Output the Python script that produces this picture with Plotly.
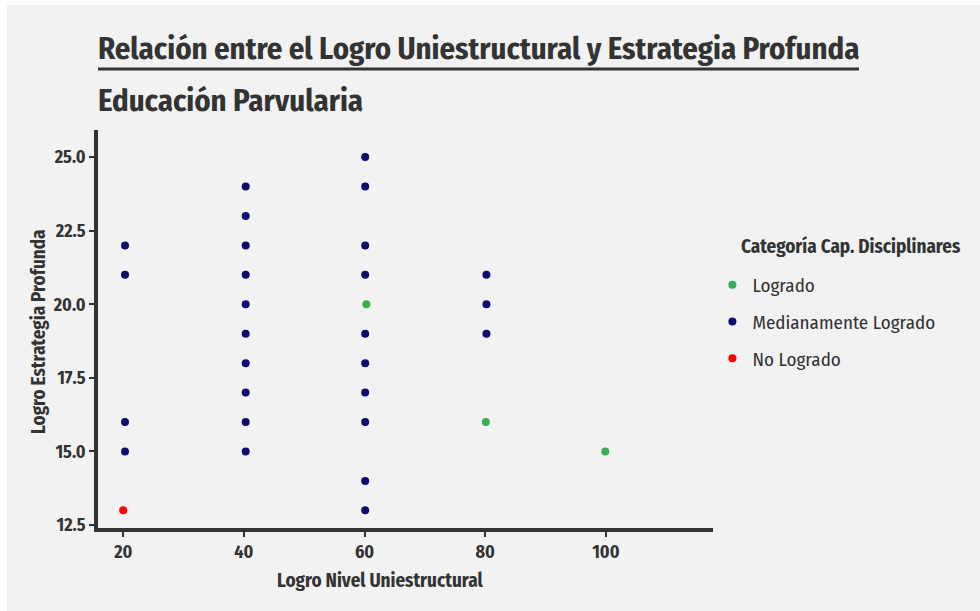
import plotly.graph_objects as go

# ---- data ----
categories = ["Logrado", "Medianamente Logrado", "No Logrado"]
logrado_x = [60.3, 80.1, 99.9]
logrado_y = [20, 16, 15]
medio_x = [20.3] * 4 + [40.3] * 10 + [60.1] * 10 + [80.2] * 3
medio_y = [22, 21, 16, 15,
           24, 23, 22, 21, 20, 19, 18, 17, 16, 15,
           25, 24, 22, 21, 19, 18, 17, 16, 14, 13,
           21, 20, 19]
nolog_x = [20.0]
nolog_y = [13]
x_ticks = [20, 40, 60, 80, 100]
y_ticks = [12.5, 15.0, 17.5, 20.0, 22.5, 25.0]

colors = {"Logrado": "#3aae55", "Medianamente Logrado": "#0f0a6e", "No Logrado": "#ff0000"}
FONT = "Fira Sans Condensed, Liberation Sans Narrow, Roboto Condensed, Arial Narrow, Noto Sans, sans-serif"
TXT = "#333333"
BG = "#f2f2f2"

OFFX, OFFY = 7, 5  # white page margin left / top
W, H = 980 - OFFX, 611 - OFFY
L, R, T, B = 98 - OFFX, 712.6 - OFFX, 130 - OFFY, 528 - OFFY


def px(x):
    return (x - OFFX - L) / (R - L)


def py(y):
    return (B - (y - OFFY)) / (B - T)


fig = go.Figure()
series = [("Logrado", logrado_x, logrado_y),
          ("Medianamente Logrado", medio_x, medio_y),
          ("No Logrado", nolog_x, nolog_y)]
for i, (name, xs, ys) in enumerate(series):
    fig.add_trace(go.Scatter(
        x=xs, y=ys, mode="markers", name=name, legendgroup=str(i),
        marker=dict(color=colors[name], size=8, line=dict(width=0)),
    ))

fig.update_layout(
    width=W, height=H, autosize=False,
    margin=dict(l=L, r=W - R, t=T, b=H - B, pad=0),
    paper_bgcolor=BG,
    plot_bgcolor=BG,
    font=dict(family=FONT, color=TXT),
    showlegend=True,
    legend=dict(
        font=dict(size=19, color=TXT),
        x=px(712), y=py(266), xanchor="left", yanchor="top",
        bgcolor="rgba(0,0,0,0)", tracegroupgap=9, itemwidth=30,
    ),
    xaxis=dict(
        range=[15.82, 117.75], tickvals=x_ticks, ticktext=[f"<b>{v}</b>" for v in x_ticks],
        showgrid=False, zeroline=False, showline=True, linecolor=TXT, linewidth=3.5,
        ticks="outside", ticklen=5, tickwidth=2, tickcolor=TXT,
        tickfont=dict(size=18, color=TXT, family=FONT), fixedrange=True,
    ),
    yaxis=dict(
        range=[12.4, 25.92], tickvals=y_ticks, ticktext=[f"<b>{v:.1f}</b>" for v in y_ticks],
        showgrid=False, zeroline=False, showline=True, linecolor=TXT, linewidth=3.5,
        ticks="outside", ticklen=5, tickwidth=2, tickcolor=TXT,
        tickfont=dict(size=18, color=TXT, family=FONT), fixedrange=True,
    ),
    shapes=[
        dict(type="line", xref="paper", yref="paper", x0=px(98), x1=px(858.5), y0=py(69), y1=py(69),
             line=dict(color=TXT, width=3)),
    ],
    annotations=[
        dict(text="<b>Relación entre el Logro Uniestructural y Estrategia Profunda</b>",
             xref="paper", yref="paper", x=px(96), y=py(48), xanchor="left", yanchor="middle",
             showarrow=False, font=dict(size=30.7, color=TXT, family=FONT)),
        dict(text="<b>Educación Parvularia</b>",
             xref="paper", yref="paper", x=px(96), y=py(100), xanchor="left", yanchor="middle",
             showarrow=False, font=dict(size=30.7, color=TXT, family=FONT)),
        dict(text="<b>Logro Nivel Uniestructural</b>",
             xref="paper", yref="paper", x=px(380), y=py(580), xanchor="center", yanchor="middle",
             showarrow=False, font=dict(size=19, color=TXT, family=FONT)),
        dict(text="<b>Logro Estrategia Profunda</b>", textangle=-90,
             xref="paper", yref="paper", x=px(38), y=py(332), xanchor="center", yanchor="middle",
             showarrow=False, font=dict(size=19, color=TXT, family=FONT)),
        dict(text="<b>Categoría Cap. Disciplinares</b>",
             xref="paper", yref="paper", x=px(739), y=py(246), xanchor="left", yanchor="middle",
             showarrow=False, font=dict(size=19, color=TXT, family=FONT)),
    ],
)

fig.write_html(
    "out.html",
    post_script="document.body.style.margin='5px 0 0 7px';document.body.style.overflow='hidden';"
                "document.documentElement.style.overflow='hidden';",
)
